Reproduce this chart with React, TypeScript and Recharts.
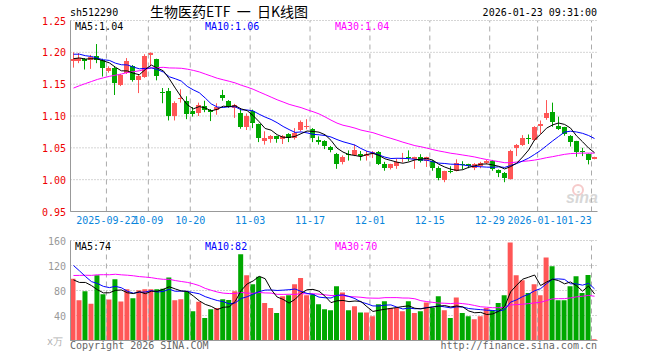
import { ComposedChart, Bar, Line, XAxis, YAxis, CartesianGrid, ReferenceLine, Cell } from 'recharts'

const dates = [
  '2025-09-12', '2025-09-15', '2025-09-16', '2025-09-17', '2025-09-18', '2025-09-19', '2025-09-22', '2025-09-23', '2025-09-24', '2025-09-25',
  '2025-09-26', '2025-09-29', '2025-09-30', '2025-10-09', '2025-10-10', '2025-10-13', '2025-10-14', '2025-10-15', '2025-10-16', '2025-10-17',
  '2025-10-20', '2025-10-21', '2025-10-22', '2025-10-23', '2025-10-24', '2025-10-27', '2025-10-28', '2025-10-29', '2025-10-30', '2025-10-31',
  '2025-11-03', '2025-11-04', '2025-11-05', '2025-11-06', '2025-11-07', '2025-11-10', '2025-11-11', '2025-11-12', '2025-11-13', '2025-11-14',
  '2025-11-17', '2025-11-18', '2025-11-19', '2025-11-20', '2025-11-21', '2025-11-24', '2025-11-25', '2025-11-26', '2025-11-27', '2025-11-28',
  '2025-12-01', '2025-12-02', '2025-12-03', '2025-12-04', '2025-12-05', '2025-12-08', '2025-12-09', '2025-12-10', '2025-12-11', '2025-12-12',
  '2025-12-15', '2025-12-16', '2025-12-17', '2025-12-18', '2025-12-19', '2025-12-22', '2025-12-23', '2025-12-24', '2025-12-25', '2025-12-26',
  '2025-12-29', '2025-12-30', '2025-12-31', '2026-01-05', '2026-01-06', '2026-01-07', '2026-01-08', '2026-01-09', '2026-01-12', '2026-01-13',
  '2026-01-14', '2026-01-15', '2026-01-16', '2026-01-19', '2026-01-20', '2026-01-21', '2026-01-22', '2026-01-23',
]

const opens = [
  1.186, 1.186, 1.190, 1.188, 1.194, 1.188, 1.171, 1.175, 1.149, 1.168,
  1.179, 1.157, 1.162, 1.196, 1.189, 1.138, 1.140, 1.100, 1.127, 1.124,
  1.108, 1.105, 1.115, 1.109, 1.110, 1.133, 1.124, 1.113, 1.104, 1.082,
  1.108, 1.087, 1.060, 1.064, 1.068, 1.064, 1.071, 1.065, 1.078, 1.084,
  1.079, 1.063, 1.061, 1.052, 1.040, 1.027, 1.040, 1.038, 1.041, 1.037,
  1.041, 1.044, 1.025, 1.019, 1.022, 1.032, 1.035, 1.032, 1.035, 1.030,
  1.029, 1.018, 1.000, 1.014, 1.014, 1.025, 1.024, 1.019, 1.021, 1.026,
  1.029, 1.015, 1.011, 1.001, 1.050, 1.054, 1.066, 1.062, 1.085, 1.097,
  1.106, 1.084, 1.082, 1.069, 1.060, 1.045, 1.040, 1.033,
]

const highs = [
  1.200, 1.199, 1.191, 1.196, 1.213, 1.190, 1.178, 1.178, 1.166, 1.191,
  1.180, 1.165, 1.197, 1.200, 1.190, 1.144, 1.144, 1.123, 1.142, 1.131,
  1.114, 1.121, 1.124, 1.111, 1.120, 1.141, 1.125, 1.119, 1.110, 1.104,
  1.110, 1.088, 1.076, 1.070, 1.069, 1.070, 1.073, 1.081, 1.093, 1.095,
  1.081, 1.068, 1.062, 1.053, 1.042, 1.038, 1.046, 1.055, 1.045, 1.045,
  1.045, 1.045, 1.028, 1.025, 1.033, 1.042, 1.046, 1.036, 1.040, 1.036,
  1.031, 1.021, 1.014, 1.021, 1.032, 1.029, 1.025, 1.026, 1.028, 1.031,
  1.031, 1.016, 1.012, 1.047, 1.056, 1.070, 1.071, 1.084, 1.093, 1.125,
  1.121, 1.099, 1.083, 1.070, 1.061, 1.050, 1.041, 1.036,
]

const lows = [
  1.176, 1.183, 1.173, 1.174, 1.183, 1.162, 1.168, 1.133, 1.147, 1.166,
  1.154, 1.136, 1.160, 1.178, 1.156, 1.120, 1.093, 1.093, 1.121, 1.095,
  1.099, 1.100, 1.106, 1.092, 1.102, 1.124, 1.113, 1.097, 1.080, 1.078,
  1.081, 1.059, 1.055, 1.058, 1.058, 1.056, 1.059, 1.063, 1.076, 1.079,
  1.059, 1.055, 1.048, 1.043, 1.017, 1.024, 1.030, 1.037, 1.030, 1.030,
  1.034, 1.023, 1.014, 1.016, 1.017, 1.027, 1.029, 1.017, 1.027, 1.020,
  1.014, 0.999, 0.996, 1.010, 1.013, 1.016, 1.018, 1.015, 1.018, 1.024,
  1.014, 1.004, 0.996, 1.000, 1.037, 1.053, 1.056, 1.061, 1.072, 1.094,
  1.083, 1.078, 1.069, 1.052, 1.036, 1.037, 1.024, 1.032,
]

const closes = [
  1.190, 1.191, 1.186, 1.193, 1.188, 1.175, 1.175, 1.152, 1.165, 1.187,
  1.157, 1.163, 1.194, 1.199, 1.163, 1.136, 1.100, 1.121, 1.129, 1.103,
  1.103, 1.118, 1.110, 1.107, 1.114, 1.128, 1.114, 1.118, 1.082, 1.100,
  1.089, 1.066, 1.065, 1.069, 1.064, 1.069, 1.065, 1.073, 1.090, 1.085,
  1.066, 1.059, 1.053, 1.046, 1.024, 1.035, 1.039, 1.046, 1.037, 1.041,
  1.043, 1.024, 1.019, 1.024, 1.028, 1.034, 1.034, 1.035, 1.030, 1.035,
  1.019, 1.002, 1.013, 1.013, 1.026, 1.024, 1.021, 1.024, 1.026, 1.029,
  1.016, 1.010, 1.003, 1.045, 1.055, 1.065, 1.065, 1.083, 1.088, 1.104,
  1.090, 1.080, 1.072, 1.059, 1.043, 1.044, 1.031, 1.035,
]

// 成交量 (万)
const volumes = [
  99, 64.5, 79, 59, 104.5, 74, 65.5, 98, 62.5, 82,
  67.5, 80.5, 82, 82, 82, 83, 101, 64.5, 66, 78,
  47, 62, 36, 50, 52, 66, 65, 79, 138, 104.5,
  90, 102, 60, 52, 44, 71, 72.5, 90, 100, 72.5,
  74, 58, 50, 48.5, 87, 77, 48.5, 55, 45, 45,
  39, 58, 63, 52, 52, 47, 63, 44, 47, 61,
  52, 71, 48.5, 36, 69, 44, 39, 34, 39, 52,
  48.5, 60, 72.5, 157, 104.5, 96.5, 76, 90, 72.5, 133,
  119, 64.5, 64.5, 87, 103, 76, 105, 2,
]

// sessions before the visible window (not shown, estimated from where the MA lines start)
const earlierCloses = [
  1.080, 1.085, 1.095, 1.090, 1.100, 1.105, 1.098, 1.110, 1.115, 1.120, 1.118, 1.125, 1.135, 1.150,
  1.120, 1.130, 1.125, 1.140, 1.145, 1.160,
  1.190, 1.210, 1.205, 1.215, 1.200,
  1.185, 1.195, 1.190, 1.190,
]
const earlierVolumes = [
  60, 72, 65, 75, 70, 68, 75,
  90, 100, 95, 120, 105, 110, 130, 115, 100, 125, 110, 120, 115,
  150, 170, 140, 135, 120,
  85, 79, 84, 138,
]

const dateTicks = ['2025-09-22', '2025-10-09', '2025-10-20', '2025-11-03', '2025-11-17', '2025-12-01', '2025-12-15', '2025-12-29', '2026-01-12', '2026-01-23']
const dateTickLabels = ['2025-09-22', '10-09', '10-20', '11-03', '11-17', '12-01', '12-15', '12-29', '2026-01-12', '01-23']
const priceTicks = [0.95, 1.0, 1.05, 1.1, 1.15, 1.2, 1.25]
const volumeTicks = [0, 40, 80, 120, 160]

const UP = '#ff5656'
const DOWN = '#00a800'
const GRID = '#aaaaaa'
const FRAME = '#999999'
const MONO = '"DejaVu Sans Mono", monospace'

function movingAverage(history: number[], values: number[], n: number) {
  const all = [...history, ...values]
  return values.map((_, i) => {
    const end = history.length + i + 1
    let sum = 0
    for (let k = end - n; k < end; k++) sum += all[k]
    return sum / n
  })
}

const ma5 = movingAverage(earlierCloses, closes, 5)
const ma10 = movingAverage(earlierCloses, closes, 10)
const ma30 = movingAverage(earlierCloses, closes, 30)
const vma5 = movingAverage(earlierVolumes, volumes, 5)
const vma10 = movingAverage(earlierVolumes, volumes, 10)
const vma30 = movingAverage(earlierVolumes, volumes, 30)

const rows = dates.map((date, i) => ({
  date,
  open: opens[i],
  high: highs[i],
  low: lows[i],
  close: closes[i],
  volume: volumes[i],
  ma5: ma5[i],
  ma10: ma10[i],
  ma30: ma30[i],
  vma5: vma5[i],
  vma10: vma10[i],
  vma30: vma30[i],
}))

const last = rows.length - 1

function Candle(props: any) {
  const { x, y, width, height, payload } = props
  const top = Math.min(y, y + height)
  const h = Math.abs(height)
  const span = payload.high - payload.low
  const toY = (v: number) => (span > 0 ? top + ((payload.high - v) / span) * h : top)
  const color = payload.close >= payload.open ? UP : DOWN
  const bodyTop = toY(Math.max(payload.open, payload.close))
  const bodyBottom = toY(Math.min(payload.open, payload.close))
  const cx = Math.floor(x + width / 2) + 0.5
  return (
    <g>
      <line x1={cx} x2={cx} y1={top} y2={top + h} stroke={color} strokeWidth={1} />
      <rect x={x} y={bodyTop} width={width} height={Math.max(bodyBottom - bodyTop, 1)} fill={color} shapeRendering="crispEdges" />
    </g>
  )
}

function DateTick(props: any) {
  const { x, y, payload } = props
  const i = dateTicks.indexOf(payload.value)
  const left = x - 3
  const style = { fontFamily: MONO, fontSize: 10, fill: '#0a86dc' }
  if (i === dateTicks.length - 1) {
    // last label is pulled inside the frame and drawn over the tail of the previous one
    return (
      <g>
        <rect x={left - 30} y={y + 3} width={31} height={11} fill="#fff" />
        <text x={left + 0.2} y={y + 12.5} textAnchor="end" style={style}>{dateTickLabels[i]}</text>
      </g>
    )
  }
  return <text x={left} y={y + 12.5} textAnchor="middle" style={style}>{dateTickLabels[i]}</text>
}

function PriceTick(props: any) {
  const { x, y, payload } = props
  return (
    <text x={x - 4.5} y={y + 4} textAnchor="end" style={{ fontFamily: MONO, fontSize: 10, fill: '#ee0000' }}>
      {Number(payload.value).toFixed(2)}
    </text>
  )
}

function VolumeTick(props: any) {
  const { x, y, payload } = props
  const zero = payload.value === 0
  return (
    <text x={zero ? x - 7.5 : x - 4.5} y={y + 4} textAnchor="end" style={{ fontFamily: MONO, fontSize: 10, fill: zero ? '#b0b0b0' : '#999' }}>
      {zero ? 'x万' : payload.value}
    </text>
  )
}

export default function App() {
  const mono = { fontFamily: MONO, fontSize: 10 }
  return (
    <div style={{ position: 'absolute', left: 0, top: 0, width: 660, height: 360, background: '#fff' }}>
      <div style={{ position: 'absolute', left: 0, top: 0 }}>
        <ComposedChart width={660} height={232} data={rows} margin={{ top: 20.5, right: 62.5, bottom: 0, left: 0.5 }} barSize={5}>
          <CartesianGrid vertical={false} stroke={GRID} strokeDasharray="1 2" />
          <XAxis dataKey="date" ticks={dateTicks} interval={0} tick={(p: any) => <DateTick {...p} />} tickLine={false} tickSize={0} tickMargin={0} height={20.5} axisLine={{ stroke: FRAME }} />
          <XAxis xAxisId="top" orientation="top" dataKey="date" tick={false} tickLine={false} height={0} axisLine={{ stroke: FRAME }} />
          <YAxis domain={[0.95, 1.25]} ticks={priceTicks} interval={0} allowDataOverflow tick={(p: any) => <PriceTick {...p} />} tickLine={false} tickSize={0} tickMargin={0} width={70} axisLine={{ stroke: FRAME }} />
          <YAxis yAxisId="r" orientation="right" domain={[0.95, 1.25]} tick={false} tickLine={false} width={0} axisLine={{ stroke: FRAME }} />
          {dateTicks.map((d) => (
            <ReferenceLine key={d} x={d} position="start" stroke={GRID} strokeDasharray="5 4" />
          ))}
          <Bar dataKey={(d: any) => [d.low, d.high]} shape={(p: any) => <Candle {...p} />} isAnimationActive={false} />
          <Line dataKey="ma30" stroke="#ff00ff" strokeWidth={1} dot={false} isAnimationActive={false} />
          <Line dataKey="ma10" stroke="#0000ff" strokeWidth={1} dot={false} isAnimationActive={false} />
          <Line dataKey="ma5" stroke="#000000" strokeWidth={1} dot={false} isAnimationActive={false} />
        </ComposedChart>
      </div>
      <div style={{ position: 'absolute', left: 0, top: 0 }}>
        <ComposedChart width={660} height={360} data={rows} margin={{ top: 240.5, right: 62.5, bottom: 0, left: 0.5 }} barSize={5}>
          <CartesianGrid vertical={false} stroke={GRID} strokeDasharray="1 2" />
          <XAxis dataKey="date" tick={false} tickLine={false} height={19.5} axisLine={{ stroke: FRAME }} />
          <XAxis xAxisId="top" orientation="top" dataKey="date" tick={false} tickLine={false} height={0} axisLine={{ stroke: FRAME }} />
          <YAxis domain={[0, 160]} ticks={volumeTicks} interval={0} allowDataOverflow tick={(p: any) => <VolumeTick {...p} />} tickLine={false} tickSize={0} tickMargin={0} width={70} axisLine={{ stroke: FRAME }} />
          <YAxis yAxisId="r" orientation="right" domain={[0, 160]} tick={false} tickLine={false} width={0} axisLine={{ stroke: FRAME }} />
          {dateTicks.map((d) => (
            <ReferenceLine key={d} x={d} position="start" stroke={GRID} strokeDasharray="5 4" />
          ))}
          <Bar dataKey="volume" isAnimationActive={false}>
            {rows.map((r) => (
              <Cell key={r.date} fill={r.close >= r.open ? UP : DOWN} />
            ))}
          </Bar>
          <Line dataKey="vma30" stroke="#ff00ff" strokeWidth={1} dot={false} isAnimationActive={false} />
          <Line dataKey="vma10" stroke="#0000ff" strokeWidth={1} dot={false} isAnimationActive={false} />
          <Line dataKey="vma5" stroke="#000000" strokeWidth={1} dot={false} isAnimationActive={false} />
        </ComposedChart>
      </div>
      <svg width={660} height={360} style={{ position: 'absolute', left: 0, top: 0, pointerEvents: 'none' }}>
        <text x={70} y={16} style={{ ...mono, fill: '#000' }}>sh512290</text>
        <text x={150} y={17} style={{ fontFamily: '"Noto Sans CJK SC", sans-serif', fontSize: 14, fill: '#000', whiteSpace: 'pre' }}>
          生物医药ETF  一  日K线图
        </text>
        <text x={597} y={16} textAnchor="end" style={{ ...mono, fill: '#000' }}>2026-01-23 09:31:00</text>

        <text x={75} y={29.5} style={{ ...mono, fill: '#000' }}>MA5:{ma5[last].toFixed(2)}</text>
        <text x={205} y={29.5} style={{ ...mono, fill: '#0000ff' }}>MA10:{ma10[last].toFixed(2)}</text>
        <text x={335} y={29.5} style={{ ...mono, fill: '#ff00ff' }}>MA30:{ma30[last].toFixed(2)}</text>

        <text x={75} y={250} style={{ ...mono, fill: '#000' }}>MA5:{Math.floor(vma5[last])}</text>
        <text x={205} y={250} style={{ ...mono, fill: '#0000ff' }}>MA10:{Math.floor(vma10[last])}</text>
        <text x={335} y={250} style={{ ...mono, fill: '#ff00ff' }}>MA30:{Math.floor(vma30[last])}</text>

        <text x={70} y={349} style={{ ...mono, fill: '#666' }}>Copyright 2026 SINA.COM</text>
        <text x={597} y={349} textAnchor="end" style={{ ...mono, fill: '#666' }}>http://finance.sina.com.cn</text>

        <g opacity={0.55}>
          <circle cx={578} cy={190} r={5} fill="none" stroke="#f0a0a0" strokeWidth={2} />
          <text x={566} y={203} style={{ fontFamily: 'Liberation Sans, sans-serif', fontSize: 16, fontStyle: 'italic', fontWeight: 'bold', fill: '#b8b8b8' }}>sina</text>
        </g>
      </svg>
    </div>
  )
}
